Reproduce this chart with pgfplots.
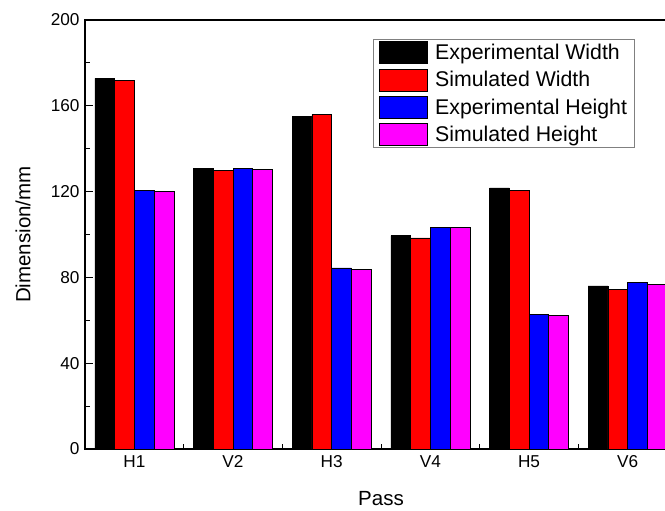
\documentclass[border=0pt]{standalone}
\usepackage{fontspec}
\setmainfont{Liberation Sans}
\usepackage{pgfplots}
\pgfplotsset{compat=1.18}
\definecolor{mymag}{RGB}{255,0,255}
\begin{document}
\begin{tikzpicture}[x=1pt,y=1pt]
\begin{axis}[
  at={(85pt,62pt)}, anchor=south west,
  scale only axis, width=592pt, height=429pt,
  ybar=0pt, bar width=0.2,
  xmin=0.5, xmax=6.5, ymin=0, ymax=200,
  xtick={1,2,3,4,5,6}, xticklabels={H1,V2,H3,V4,H5,V6},
  minor xtick={1.5,2.5,3.5,4.5,5.5},
  ytick={0,40,80,120,160,200}, minor ytick={20,60,100,140,180},
  tick pos=left, tick align=inside,
  major tick length=8pt, minor tick length=5pt,
  major x tick style={draw=none},
  every tick/.style={black, line width=1pt},
  axis line style={line width=1.3pt},
  /pgf/number format/assume math mode=true,
  tick label style={font=\fontsize{17.2}{20}\selectfont},
  yticklabel style={xshift=-2pt},
  xticklabel style={yshift=-3pt},
  xlabel={Pass}, ylabel={Dimension/mm},
  label style={font=\fontsize{20.5}{24}\selectfont},
  xlabel style={at={(axis description cs:0.5,-0.1166)}, anchor=center},
  ylabel style={at={(axis description cs:-0.1047,0.5)}, anchor=center},
  legend cell align=left,
  legend image code/.code={\draw[#1,draw=black,line width=0.8pt] (0pt,-11pt) rectangle (48pt,11pt); \path (54pt,0pt);},
  legend style={at={(0.4865,0.9557)}, anchor=north west, draw=gray, line width=1pt,
    font=\fontsize{21.3}{24}\selectfont, row sep=4.3pt, inner xsep=5pt, inner ysep=2pt},
  every axis plot/.append style={draw=black, line width=0.6pt},
]
\addplot[fill=black] coordinates {(1,172.8) (2,130.8) (3,154.9) (4,99.5) (5,121.7) (6,76.0)};
\addplot[fill=red] coordinates {(1,172.0) (2,129.9) (3,155.9) (4,98.4) (5,120.7) (6,74.5)};
\addplot[fill=blue] coordinates {(1,120.7) (2,130.8) (3,84.4) (4,103.4) (5,62.9) (6,77.7)};
\addplot[fill=mymag] coordinates {(1,120.0) (2,130.2) (3,83.9) (4,103.4) (5,62.1) (6,76.9)};
\legend{Experimental Width, Simulated Width, Experimental Height, Simulated Height}
\end{axis}
\pgfresetboundingbox
\path[use as bounding box] (0pt,0pt) rectangle (665pt,511pt);
\end{tikzpicture}
\end{document}
